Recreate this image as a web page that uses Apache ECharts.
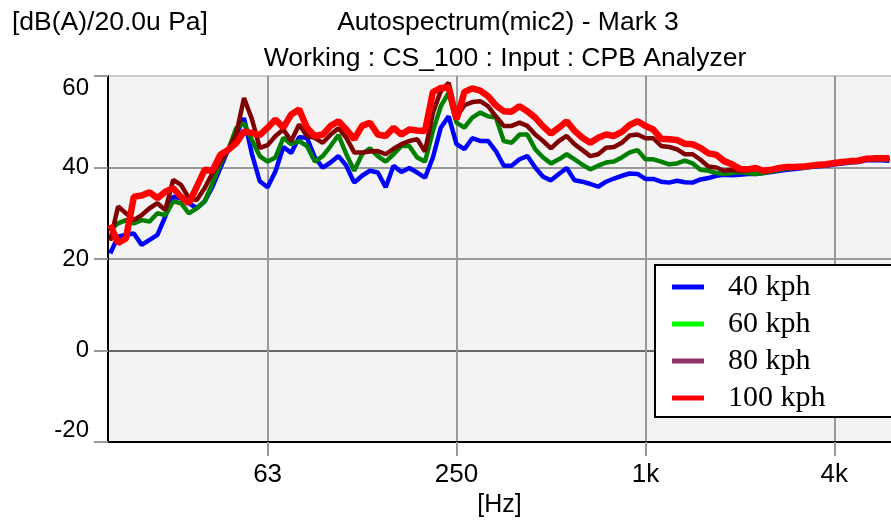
<!DOCTYPE html>
<html>
<head>
<meta charset="utf-8">
<script src="https://cdn.jsdelivr.net/npm/echarts@6/dist/echarts.min.js"></script>
<style>
  html, body { margin: 0; padding: 0; background: #fff; }
  #chart { width: 891px; height: 523px; }
</style>
</head>
<body>
<div id="chart"></div>
<script>
// 1/12-octave bands, position in octaves relative to 1 kHz (band 68 = 1 kHz)
var bandOctaves = [];
for (var i = 0; i < 100; i++) bandOctaves.push((i - 68) / 12);

// x-axis tick positions (octaves re 1 kHz) and their labels
var xTickValues = [-4, -2, 0, 2];
var xTickLabels = ['63', '250', '1k', '4k'];

// levels in dB(A)
var kph40 = [21.2, 24.9, 25.3, 25.6, 23.1, 24.2, 25.3, 29.3, 33.6, 33.3,
  32.2, 31.1, 32.6, 35.8, 39.9, 43.9, 47.2, 50.8, 43.0, 37.0,
  35.7, 39.2, 44.5, 43.2, 46.6, 46.5, 42.2, 40.0, 41.1, 42.5,
  40.4, 36.7, 38.2, 39.3, 38.9, 35.7, 40.4, 39.0, 39.9, 38.9,
  37.8, 42.2, 48.7, 51.2, 45.1, 44.0, 46.4, 45.8, 45.8, 43.6,
  40.4, 40.4, 41.8, 42.5, 40.0, 38.0, 37.2, 38.6, 39.9, 37.2,
  36.9, 36.4, 35.8, 36.9, 37.6, 38.2, 38.7, 38.6, 37.5, 37.5,
  36.9, 36.7, 37.1, 36.8, 36.7, 37.4, 37.7, 38.2, 38.4, 38.3,
  38.4, 38.6, 38.6, 38.8, 39.0, 39.3, 39.5, 39.7, 39.9, 40.1,
  40.3, 40.4, 40.7, 40.9, 41.1, 41.2, 41.6, 41.6, 41.6, 41.5];

var kph60 = [26.4, 27.8, 28.5, 27.8, 28.5, 28.2, 30.0, 29.6, 32.6, 32.2,
  30.0, 31.1, 32.6, 36.6, 40.9, 43.9, 48.6, 49.7, 46.0, 42.5,
  41.3, 42.2, 46.5, 45.1, 45.8, 44.7, 41.3, 42.5, 44.7, 47.1,
  42.9, 39.3, 42.9, 44.2, 42.5, 41.3, 42.9, 44.7, 44.7, 42.2,
  41.3, 48.0, 53.4, 56.3, 49.8, 48.7, 50.9, 52.0, 51.2, 50.9,
  45.8, 45.4, 47.2, 47.2, 44.0, 42.2, 40.9, 41.8, 42.9, 41.8,
  40.6, 39.6, 40.4, 41.1, 41.3, 42.2, 43.3, 43.8, 41.8, 41.8,
  41.3, 40.7, 40.9, 41.5, 40.9, 39.5, 39.3, 38.8, 38.6, 38.8,
  39.0, 38.8, 38.6, 38.8, 39.1, 39.5, 39.8, 39.9, 40.0, 40.2,
  40.4, 40.5, 40.8, 41.0, 41.2, 41.3, 41.7, 41.8, 41.8, 41.8];

var kph80 = [24.0, 31.5, 30.0, 28.5, 29.6, 31.1, 32.2, 30.7, 37.3, 36.2,
  33.3, 32.9, 35.5, 38.8, 41.3, 43.9, 47.2, 55.2, 50.6, 44.3,
  44.9, 46.9, 48.3, 45.8, 49.4, 46.9, 46.5, 45.4, 47.2, 48.6,
  46.5, 43.3, 43.3, 43.5, 43.6, 42.9, 44.1, 45.1, 45.8, 46.2,
  43.5, 52.0, 56.7, 58.5, 51.0, 53.6, 54.3, 54.5, 53.4, 51.2,
  49.1, 49.1, 49.8, 49.1, 47.2, 45.8, 44.2, 45.8, 46.9, 45.1,
  43.8, 42.5, 42.9, 44.3, 44.5, 45.4, 47.0, 47.2, 46.4, 46.4,
  44.7, 44.5, 44.0, 42.9, 42.9, 41.7, 40.2, 40.0, 39.3, 39.5,
  39.3, 39.4, 39.7, 39.2, 39.4, 39.8, 40.0, 40.0, 40.1, 40.3,
  40.5, 40.6, 40.9, 41.1, 41.3, 41.4, 41.8, 41.9, 41.9, 41.9];

var kph100 = [27.5, 23.5, 24.5, 33.6, 33.9, 34.6, 33.3, 34.7, 35.5, 33.6,
  32.2, 35.8, 39.5, 39.3, 42.8, 43.9, 45.3, 47.9, 47.5, 47.1,
  48.7, 50.5, 48.7, 51.6, 52.7, 48.7, 46.9, 47.2, 49.1, 50.1,
  48.3, 46.2, 49.1, 49.8, 47.2, 46.9, 48.7, 47.2, 48.3, 48.1,
  48.0, 56.5, 57.4, 57.5, 50.5, 56.5, 57.3, 56.8, 55.6, 53.6,
  52.3, 52.2, 53.4, 52.3, 50.9, 49.0, 47.4, 48.7, 50.1, 48.0,
  46.5, 45.4, 46.5, 47.2, 46.9, 47.8, 49.3, 50.1, 49.1, 48.3,
  46.3, 46.2, 46.0, 45.2, 45.1, 44.3, 43.1, 42.8, 41.4, 40.7,
  39.7, 39.6, 39.9, 39.3, 39.5, 39.9, 40.1, 40.1, 40.2, 40.4,
  40.6, 40.7, 41.0, 41.2, 41.4, 41.5, 41.9, 42.0, 42.0, 42.0];

var seriesNames = ['40 kph', '60 kph', '80 kph', '100 kph'];
var lineColors = ['#0000ff', '#008000', '#800000', '#ff0000'];
var legendColors = ['#0000ff', '#00ff00', '#8f3565', '#ff0000'];
var lineWidths = [4.5, 4.5, 4.5, 6.5];
var seriesValues = [kph40, kph60, kph80, kph100];

function pairs(vals) {
  return vals.map(function (v, k) { return [bandOctaves[k], v]; });
}

var sans = 'Liberation Sans, Arial, sans-serif';
var titleFont = { fontFamily: sans, fontSize: 26.5, fontWeight: 'normal', color: '#000' };
var myChart = echarts.init(document.getElementById('chart'));

var option = {
  animation: false,
  backgroundColor: '#fff',
  title: [
    { text: '[dB(A)/20.0u Pa]', left: 12, top: 9, padding: 0, textStyle: titleFont },
    { text: 'Autospectrum(mic2) - Mark 3', left: 508, top: 9, padding: 0, textAlign: 'center', textStyle: titleFont },
    { text: 'Working : CS_100 : Input : CPB Analyzer', left: 505, top: 45, padding: 0, textAlign: 'center', textStyle: titleFont }
  ],
  legend: {
    orient: 'vertical',
    left: 655,
    top: 265,
    padding: [7, 300, 4, 17],
    backgroundColor: '#fff',
    borderColor: '#000',
    borderWidth: 2,
    borderRadius: 0,
    icon: 'rect',
    itemWidth: 32,
    itemHeight: 5,
    itemGap: 7,
    textStyle: { fontFamily: 'Liberation Serif, Times New Roman, serif', fontSize: 30,
      lineHeight: 30, color: '#000', padding: [0, 0, 0, 19] },
    data: seriesNames.map(function (n, k) {
      return { name: n, itemStyle: { color: legendColors[k] } };
    })
  },
  grid: {
    left: 108, right: 0, top: 76, bottom: 78,
    show: true, backgroundColor: '#f3f3f3', borderWidth: 0
  },
  xAxis: {
    type: 'value',
    min: -5.69,
    max: 2.6,
    name: '[Hz]',
    nameLocation: 'middle',
    nameGap: 46,
    nameTextStyle: { fontFamily: sans, fontSize: 25, color: '#000' },
    axisLine: { onZero: false, lineStyle: { color: '#000', width: 2 } },
    axisTick: { show: true, customValues: xTickValues, length: 14,
      lineStyle: { color: '#999', width: 2 } },
    axisLabel: { customValues: xTickValues, margin: 20, fontFamily: sans, fontSize: 26, color: '#000',
      formatter: function (v) {
        var k = xTickValues.indexOf(Math.round(v));
        return k >= 0 ? xTickLabels[k] : '';
      } },
    splitLine: { show: true, lineStyle: { color: '#999', width: 2 } }
  },
  yAxis: {
    type: 'value',
    min: -20,
    max: 60,
    interval: 20,
    axisLine: { show: true, onZero: false, lineStyle: { color: '#000', width: 2 } },
    axisTick: { show: true, length: 14, lineStyle: { color: '#999', width: 2 } },
    axisLabel: { margin: 19, fontFamily: sans, fontSize: 24, color: '#000',
      verticalAlignMinLabel: 'bottom', verticalAlignMaxLabel: 'top' },
    splitLine: { show: true, lineStyle: { color: ['#999', '#666', '#999', '#999', '#ccc'], width: 2 } }
  },
  series: seriesNames.map(function (n, k) {
    return {
      name: n,
      type: 'line',
      symbol: 'none',
      color: lineColors[k],
      lineStyle: { color: lineColors[k], width: lineWidths[k] },
      data: pairs(seriesValues[k])
    };
  })
};

myChart.setOption(option);
window.addEventListener('resize', function () { myChart.resize(); });
</script>
</body>
</html>
